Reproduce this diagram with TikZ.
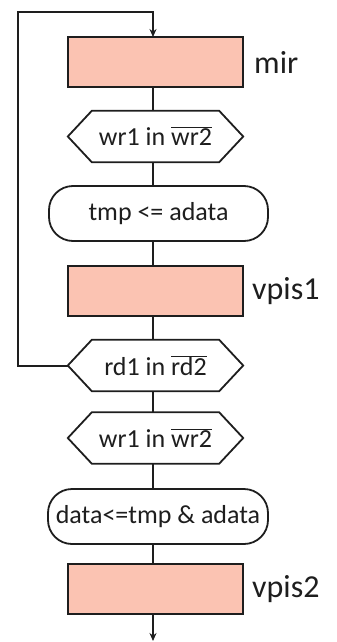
\documentclass[tikz,border=0pt]{standalone}
\usepackage{fontspec}
\setmainfont{Carlito}
\usetikzlibrary{arrows.meta}
\definecolor{boxfill}{RGB}{251,195,178}
\definecolor{ink}{RGB}{30,30,30}
\newcommand{\ovl}[1]{$\overline{\mbox{#1}}$}
\begin{document}
\begin{tikzpicture}[x=1pt,y=-1pt,
  flow/.style={line width=2pt, draw=ink},
  procbox/.style={draw=ink, line width=1.8pt, fill=boxfill, minimum width=175pt, minimum height=50pt, inner sep=0pt},
  termbox/.style={draw=ink, line width=1.8pt, rounded corners=24pt, minimum width=219pt, minimum height=55pt, inner sep=0pt, font=\fontsize{26}{30}\selectfont, text=ink},
  hexnode/.style={minimum width=175pt, minimum height=51pt, inner sep=0pt, font=\fontsize{26}{30}\selectfont, text=ink},
  hexline/.style={draw=ink, line width=1.8pt},
  tag/.style={anchor=west, inner sep=0pt, font=\fontsize{32}{36}\selectfont, text=ink},
  tip/.style={-{Stealth[length=8pt,width=7pt]}}
]
\useasboundingbox (0,0) rectangle (337,642);

% blocks, top to bottom
\node[procbox] (mir) at (155.5,62) {};
\node[hexnode] (h1) at (155.5,136.5) {wr1 in \ovl{wr2}};
\node[termbox] (tmp) at (158.5,213.5) {tmp <= adata};
\node[procbox] (vpis1) at (155.5,291) {};
\node[hexnode] (h2) at (155.5,365.5) {rd1 in \ovl{rd2}};
\node[hexnode] (h3) at (155.5,438) {wr1 in \ovl{wr2}};
\node[termbox, minimum width=220pt] (data) at (158,516.5) {data<=tmp \& adata};
\node[procbox] (vpis2) at (155.5,589) {};

% side labels
\node[tag] (lmir) at (254,62) {mir};
\node[tag] (lv1) at (252,291) {vpis1};
\node[tag] (lv2) at (252,589) {vpis2};

% hexagon outlines
\foreach \h in {h1,h2,h3}
  \draw[hexline] (\h.west) -- ([xshift=24pt]\h.north west) -- ([xshift=-24pt]\h.north east)
    -- (\h.east) -- ([xshift=-24pt]\h.south east) -- ([xshift=24pt]\h.south west) -- cycle;

% main flow
\coordinate (out) at (153,641);
\draw[flow] (153,87) -- (153,111);
\draw[flow] (153,162) -- (153,186);
\draw[flow] (153,241) -- (153,266);
\draw[flow] (153,316) -- (153,340);
\draw[flow] (153,391) -- (153,413);
\draw[flow] (153,463) -- (153,489);
\draw[flow] (153,544) -- (153,564);
\draw[flow, tip] (153,614) -- (out);

% loop back from rd1 to mir
\coordinate (c1) at (18,365.5);
\coordinate (c2) at (18,12.5);
\coordinate (c3) at (153,12.5);
\draw[flow, tip] (h2.west) -- (c1) -- (c2) -- (c3) -- (153,37);
\end{tikzpicture}
\end{document}
